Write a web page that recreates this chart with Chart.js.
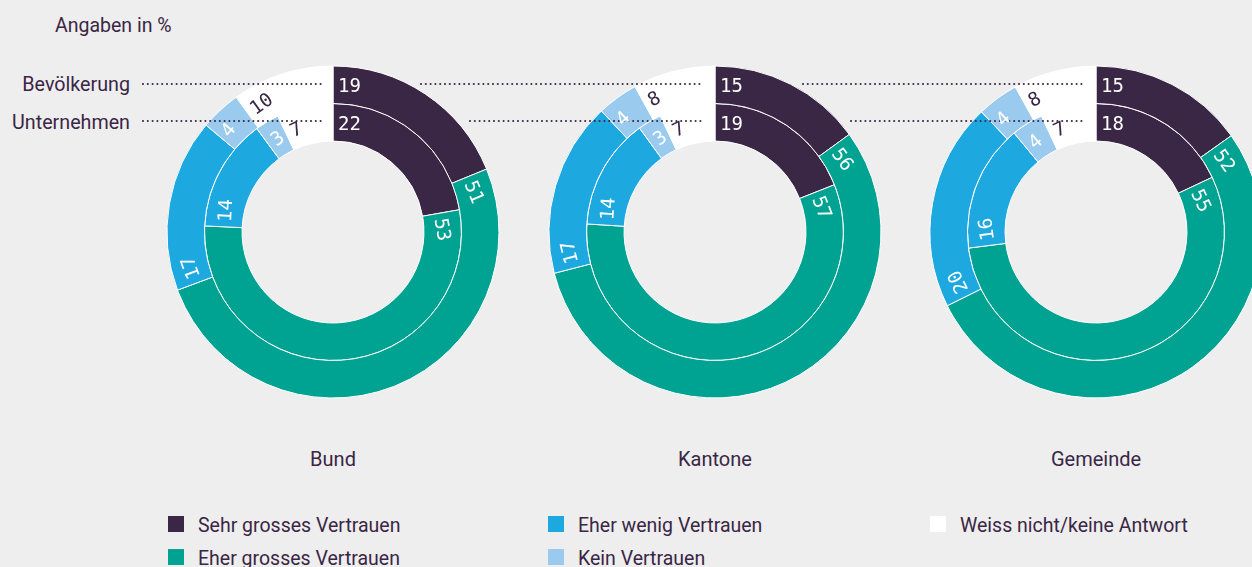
<!DOCTYPE html>
<html>
<head>
<meta charset="utf-8">
<script src="https://cdn.jsdelivr.net/npm/chart.js@4/dist/chart.umd.min.js"></script>
<style>
  html, body { margin: 0; padding: 0; }
  body {
    width: 1252px; height: 567px; overflow: hidden; position: relative;
    background: #eeeeee; color: #3a2645;
    font-family: Roboto, "Liberation Sans", sans-serif;
  }
  canvas.ring { position: absolute; }
  .txt { position: absolute; white-space: nowrap; line-height: 1; }
  .note { left: 55px; top: 15.5px; font-size: 19.5px; }
  .row { width: 130px; left: 0; text-align: right; font-size: 19.7px; }
  .title { width: 200px; text-align: center; top: 449px; font-size: 20px; }
  .leg { position: absolute; font-size: 19.5px; line-height: 1; white-space: nowrap; }
  .leg i { position: absolute; left: 0; top: 0; width: 16px; height: 16px; }
  .leg span { position: absolute; left: 30px; top: -0.5px; }
</style>
</head>
<body>
<div class="txt note">Angaben in %</div>
<div class="txt row" style="top:75.4px">Bevölkerung</div>
<div class="txt row" style="top:113.4px">Unternehmen</div>

<script>
// Answer categories, ring groups and levels of government
const categories = ['Sehr grosses Vertrauen', 'Eher grosses Vertrauen', 'Eher wenig Vertrauen', 'Kein Vertrauen', 'Weiss nicht/keine Antwort'];
const rings = ['Bevölkerung', 'Unternehmen'];
const levels = ['Bund', 'Kantone', 'Gemeinde'];

// Shares in percent (outer ring: Bevölkerung, inner ring: Unternehmen)
const bundBevoelkerung     = [19, 51, 17, 4, 10];
const bundUnternehmen      = [22, 53, 14, 3, 7];
const kantoneBevoelkerung  = [15, 56, 17, 4, 8];
const kantoneUnternehmen   = [19, 57, 14, 3, 7];
const gemeindeBevoelkerung = [15, 52, 20, 4, 8];
const gemeindeUnternehmen  = [18, 55, 16, 4, 7];

const colors     = ['#3a2645', '#00a392', '#1ea8e0', '#9acbee', '#ffffff'];
const textColors = ['#ffffff', '#ffffff', '#ffffff', '#ffffff', '#3a2645'];

// Layout of the three doughnuts
const centers = [333, 715, 1096];
const centerY = 232;
const leaderStarts = [[-190, -190], [-294, -245], [-293, -245]];
const CW = 640, CH = 400;

// Value labels, placed at the start of each segment and turned along the ring
const ringLabels = {
  id: 'ringLabels',
  afterDatasetsDraw(chart) {
    const ctx = chart.ctx;
    chart.data.datasets.forEach((ds, di) => {
      const meta = chart.getDatasetMeta(di);
      meta.data.forEach((arc, i) => {
        const p = arc.getProps(['x', 'y', 'startAngle', 'innerRadius', 'outerRadius']);
        const r = (p.innerRadius + p.outerRadius) / 2;
        const a = p.startAngle;
        ctx.save();
        ctx.translate(p.x + r * Math.cos(a), p.y + r * Math.sin(a));
        ctx.rotate(a + Math.PI / 2);
        ctx.font = '19px "DejaVu Sans Mono", monospace';
        ctx.fillStyle = textColors[i];
        ctx.textAlign = 'left';
        ctx.textBaseline = 'middle';
        ctx.fillText(String(ds.data[i]), 5, 2.5);
        ctx.restore();
      });
    });
  }
};

// Dotted leader lines from the row names to the top of each ring
const leaders = {
  id: 'leaders',
  afterDatasetsDraw(chart, args, opts) {
    const ctx = chart.ctx;
    ctx.save();
    ctx.fillStyle = '#3a2645';
    chart.data.datasets.forEach((ds, di) => {
      const arc = chart.getDatasetMeta(di).data[0];
      const p = arc.getProps(['x', 'y', 'innerRadius', 'outerRadius']);
      const y = Math.round(p.y - (p.innerRadius + p.outerRadius) / 2) - 1;
      const x0 = p.x + opts.starts[di];
      const x1 = p.x - 11;
      for (let x = x0; x <= x1; x += 4.8) {
        ctx.beginPath();
        ctx.arc(x, y, 1.05, 0, Math.PI * 2);
        ctx.fill();
      }
    });
    ctx.restore();
  }
};

const seriesByLevel = [
  [bundBevoelkerung, bundUnternehmen],
  [kantoneBevoelkerung, kantoneUnternehmen],
  [gemeindeBevoelkerung, gemeindeUnternehmen]
];

levels.forEach((level, li) => {
  const cv = document.createElement('canvas');
  cv.className = 'ring';
  cv.width = CW; cv.height = CH;
  cv.style.width = CW + 'px'; cv.style.height = CH + 'px';
  cv.style.left = (centers[li] - CW / 2) + 'px';
  cv.style.top = (centerY - CH / 2) + 'px';
  document.body.appendChild(cv);

  new Chart(cv, {
    type: 'doughnut',
    data: {
      labels: categories,
      datasets: seriesByLevel[li].map((vals, ri) => ({
        label: rings[ri],
        data: vals,
        backgroundColor: colors,
        borderColor: '#ffffff',
        borderWidth: 1
      }))
    },
    options: {
      responsive: false,
      animation: false,
      radius: 166,
      cutout: '54.8%',
      layout: { padding: 0 },
      plugins: {
        legend: { display: false },
        tooltip: { enabled: false },
        leaders: { starts: leaderStarts[li] }
      }
    },
    plugins: [leaders, ringLabels]
  });

  const t = document.createElement('div');
  t.className = 'txt title';
  t.style.left = (centers[li] - 100) + 'px';
  t.textContent = level;
  document.body.appendChild(t);
});

// Legend in three columns
const legendX = [168, 548, 930];
const legendY = [516, 549];
const legendSlots = [[0, 0], [0, 1], [1, 0], [1, 1], [2, 0]];
categories.forEach((c, i) => {
  const [col, row] = legendSlots[i];
  const d = document.createElement('div');
  d.className = 'leg';
  d.style.left = legendX[col] + 'px';
  d.style.top = legendY[row] + 'px';
  const sw = document.createElement('i');
  sw.style.background = colors[i];
  const s = document.createElement('span');
  s.textContent = c;
  d.appendChild(sw); d.appendChild(s);
  document.body.appendChild(d);
});
</script>
</body>
</html>
